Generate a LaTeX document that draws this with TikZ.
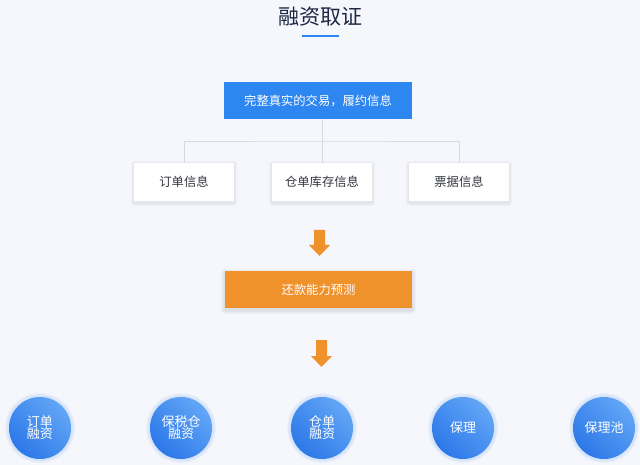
\documentclass[tikz,border=0pt]{standalone}
\usepackage{fontspec}
\setmainfont{Noto Sans CJK SC}
\definecolor{bg}{HTML}{F5F7FD}
\definecolor{titlec}{HTML}{1E2843}
\definecolor{bluebox}{HTML}{2E86F1}
\definecolor{orangebox}{HTML}{F0922C}
\definecolor{linec}{HTML}{D6D9DF}
\definecolor{txt}{HTML}{333640}
\definecolor{cirA}{HTML}{62A6F6}
\definecolor{cirB}{HTML}{2C78E8}
\definecolor{glow}{HTML}{C9DCF8}
\begin{document}
\begin{tikzpicture}[x=1pt,y=-1pt,
  topbox/.style={fill=bluebox,text=white,minimum width=188pt,minimum height=37pt,inner sep=0pt,font=\fontsize{12.3}{14}\selectfont},
  infobox/.style={fill=white,text=txt,minimum width=100pt,minimum height=38pt,inner sep=0pt,font=\fontsize{12.3}{14}\selectfont},
  predbox/.style={fill=orangebox,text=white,minimum width=187pt,minimum height=37pt,inner sep=0pt,font=\fontsize{12.3}{14}\selectfont},
  conn/.style={draw=linec,line width=0.9pt},
  arrowfill/.style={fill=orangebox},
  product/.style={circle,minimum size=62pt,inner sep=0pt,text=white,align=center,font=\fontsize{13}{15}\selectfont,left color=cirA,right color=cirB,shading angle=-45},
  softshadow/.style={fill=black,fill opacity=0.025},
  glowring/.style={fill=glow,fill opacity=0.25}
]
\fill[bg] (0,0) rectangle (640,465);
\useasboundingbox (0,0) rectangle (640,465);
\node[text=titlec,font=\fontsize{21}{24}\selectfont] (title) at (320,17) {融资取证};
\draw[bluebox,line width=2pt] (302,36) -- (339,36);
\node[topbox] (top) at (318,100.5) {完整真实的交易，履约信息};
% soft shadows of info boxes
\foreach \cx in {184,322,459}{
  \foreach \e in {1,2,3}{
    \fill[softshadow,rounded corners=\e pt] (\cx-50-\e,163+1-\e) rectangle (\cx+50+\e,201+2+\e);
  }
}
\node[infobox] (i1) at (184,182) {订单信息};
\node[infobox] (i2) at (322,182) {仓单库存信息};
\node[infobox] (i3) at (459,182) {票据信息};
\coordinate (j) at (322,141);
\draw[conn] (top.south -| j) -- (j);
\draw[conn] (i1.north) |- (j) -| (i3.north);
\draw[conn] (j) -- (i2.north);
% arrow 1
\fill[arrowfill] (314,230) -- (325,230) -- (325,245) -- (330,245) -- (319.5,256) -- (309,245) -- (314,245) -- cycle;
% shadow of prediction box
\foreach \e in {1,2,3,4}{
  \fill[softshadow,rounded corners=\e pt] (225-\e,271+2-\e) rectangle (412+\e,308+2+\e);
}
\node[predbox] (pred) at (318.5,289.5) {还款能力预测};
% arrow 2
\fill[arrowfill] (316,340) -- (327,340) -- (327,356) -- (332,356) -- (321.5,367) -- (311,356) -- (316,356) -- cycle;
% glows
\foreach \cx in {40,181,322,463,604}{
  \foreach \r in {35,34,33,32}{
    \fill[glowring] (\cx,428) circle (\r);
  }
}
\node[product] (c1) at (40,428) {订单\\[-3pt]融资};
\node[product] (c2) at (181,428) {保税仓\\[-3pt]融资};
\node[product] (c3) at (322,428) {仓单\\[-3pt]融资};
\node[product] (c4) at (463,428) {保理};
\node[product] (c5) at (604,428) {保理池};
\end{tikzpicture}
\end{document}
